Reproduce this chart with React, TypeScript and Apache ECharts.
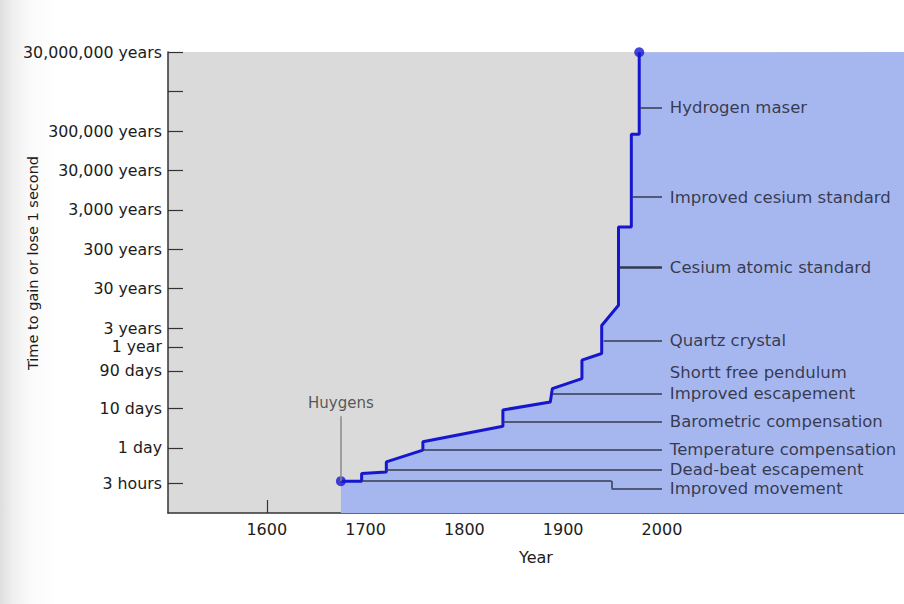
import React, { useEffect, useRef } from "react";
import * as echarts from "echarts";

// ---- units (in years) ----
const HOUR = 1 / 8766;
const DAY = 1 / 365.25;

// ---- axes ----
const X_MIN = 1500;
const X_MAX = 2245;
const Y_MIN = 6.07e-5;
const Y_MAX = 3.05e7;

const xTickValues = [1600, 1700, 1750, 1800, 1850, 1900, 1950, 2000];
const xLabelValues = [1600, 1700, 1800, 1900, 2000];

const yTickValues = [3 * HOUR, DAY, 10 * DAY, 90 * DAY, 1, 3, 30, 300, 3000, 30000, 300000, 3000000, 30000000];
const yTickLabels = ["3 hours", "1 day", "10 days", "90 days", "1 year", "3 years", "30 years", "300 years", "3,000 years", "30,000 years", "300,000 years", "", "30,000,000 years"];

// ---- clock accuracy history (year, time to gain or lose 1 second in years) ----
const stepYears = [1675, 1696, 1696, 1721, 1721, 1758, 1758, 1839, 1839, 1887, 1889, 1919, 1919, 1939, 1939, 1956, 1956, 1969, 1969, 1977, 1977];
const stepTimes = [3.9e-4, 3.9e-4, 6.1e-4, 6.7e-4, 1.2e-3, 2.4e-3, 3.9e-3, 9.7e-3, 0.025, 0.04, 0.087, 0.157, 0.46, 0.68, 3.5, 11.4, 1100, 1100, 2.5e5, 2.5e5, 3e7];

// ---- annotations ----
const annotationLabels = [
  "Hydrogen maser",
  "Improved cesium standard",
  "Cesium atomic standard",
  "Quartz crystal",
  "Shortt free pendulum",
  "Improved escapement",
  "Barometric compensation",
  "Temperature compensation",
  "Dead-beat escapement",
  "Improved movement",
];
const annotationTimes = [1.2e6, 6300, 105, 1.47, 0.226, 0.0646, 0.0129, 2.44e-3, 7.7e-4, 2.55e-4];
const leaderStartYears = [1978, 1970, 1957, 1941, null, 1889, 1839, 1758, 1721, 1949];
const leaderEndYear = 2000;
const labelYear = 2008;
const improvedMovementYears = [1696, 1949];
const improvedMovementTime = 3.94e-4;

const huygensYear = 1675;
const huygensLabelTime = 0.037;
const huygensLineTop = 0.0173;

export default function App() {
  const ref = useRef<HTMLDivElement>(null);

  useEffect(() => {
    if (!ref.current) return;
    const chart = echarts.init(ref.current, null, { renderer: "svg" });
    const font = "DejaVu Sans";
    const textColor = "#1c1c1c";
    const lineBlue = "#1616cf";

    const stepData = stepYears.map((y, i) => [y, stepTimes[i]]);
    const areaData = [...stepData, [stepYears[stepYears.length - 1], Y_MAX], [X_MAX, Y_MAX]];

    const leaderLines: any[] = [];
    annotationLabels.forEach((lab, i) => {
      const s = leaderStartYears[i];
      if (s == null) return;
      leaderLines.push([
        { coord: [s, annotationTimes[i]], lineStyle: { width: i === 2 ? 2.6 : 1.5 } },
        { coord: [leaderEndYear, annotationTimes[i]] },
      ]);
    });
    // Improved movement dog-leg
    leaderLines.push([
      { coord: [improvedMovementYears[0], improvedMovementTime] },
      { coord: [improvedMovementYears[1], improvedMovementTime] },
    ]);
    leaderLines.push([
      { coord: [improvedMovementYears[1], improvedMovementTime] },
      { coord: [improvedMovementYears[1], annotationTimes[9]] },
    ]);
    // Huygens pointer
    leaderLines.push([
      { coord: [huygensYear, huygensLineTop], lineStyle: { color: "#8a8a8a", width: 1.5 } },
      { coord: [huygensYear, stepTimes[0]] },
    ]);

    const labelFor = (v: number) => {
      for (let i = 0; i < yTickValues.length; i++) {
        if (Math.abs(Math.log10(v) - Math.log10(yTickValues[i])) < 0.01) return yTickLabels[i];
      }
      return "";
    };

    chart.setOption({
      animation: false,
      grid: {
        left: 168,
        right: 0,
        top: 52,
        bottom: 91,
        show: true,
        backgroundColor: "#dadada",
        borderWidth: 0,
      },
      graphic: [
        {
          type: "text",
          x: 33,
          y: 263,
          rotation: Math.PI / 2,
          style: {
            text: "Time to gain or lose 1 second",
            fontSize: 14.5,
            fontFamily: font,
            fill: textColor,
            align: "center",
            verticalAlign: "middle",
          },
        },
      ],
      xAxis: {
        type: "value",
        min: X_MIN,
        max: X_MAX,
        splitLine: { show: false },
        axisLine: { lineStyle: { color: "#333", width: 1.5 } },
        axisTick: {
          inside: true,
          length: 13,
          customValues: xTickValues,
          lineStyle: { color: "#333", width: 1.2 },
        },
        axisLabel: {
          customValues: xLabelValues,
          margin: 8,
          fontSize: 16,
          fontFamily: font,
          color: textColor,
          formatter: (v: number) => String(v),
        },
        name: "Year",
        nameLocation: "middle",
        nameGap: 44,
        nameTextStyle: { fontSize: 16, fontFamily: font, color: textColor, verticalAlign: "middle" },
      },
      yAxis: {
        type: "log",
        logBase: 10,
        min: Y_MIN,
        max: Y_MAX,
        splitLine: { show: false },
        axisLine: { show: true, lineStyle: { color: "#333", width: 1.5 } },
        axisTick: {
          show: true,
          inside: true,
          length: 15,
          customValues: yTickValues,
          lineStyle: { color: "#333", width: 1.2 },
        },
        axisLabel: {
          customValues: yTickValues,
          margin: 6,
          fontSize: 15.8,
          fontFamily: font,
          color: textColor,
          formatter: (v: number) => labelFor(v),
        },
      },
      series: [
        {
          name: "region",
          type: "line",
          data: areaData,
          symbol: "none",
          lineStyle: { width: 0, opacity: 0 },
          areaStyle: { color: "#a6b6ef", opacity: 1, origin: "start" },
          silent: true,
          z: 1,
        },
        {
          name: "annotations",
          type: "scatter",
          symbolSize: 0,
          data: annotationLabels.map((lab, i) => ({ name: lab, value: [labelYear, annotationTimes[i]] })),
          label: {
            show: true,
            position: "right",
            distance: 0,
            formatter: "{b}",
            fontSize: 16.5,
            fontFamily: font,
            color: "#171826",
            align: "left",
            verticalAlign: "middle",
          },
          markLine: {
            silent: true,
            symbol: "none",
            label: { show: false },
            lineStyle: { color: "#353a50", width: 1.5, type: "solid" },
            data: leaderLines,
          },
          z: 2,
        },
        {
          name: "huygens",
          type: "scatter",
          symbolSize: 0,
          data: [{ name: "Huygens", value: [huygensYear, huygensLabelTime] }],
          label: {
            show: true,
            position: "inside",
            formatter: "{b}",
            fontSize: 15,
            fontFamily: font,
            color: "#333",
          },
          z: 2,
        },
        {
          name: "accuracy",
          type: "line",
          data: stepData,
          symbol: "none",
          lineStyle: { color: lineBlue, width: 3 },
          z: 3,
        },
        {
          name: "endpoints",
          type: "scatter",
          data: [stepData[0], stepData[stepData.length - 1]],
          symbol: "circle",
          symbolSize: 10,
          itemStyle: { color: lineBlue },
          z: 4,
        },
      ],
    });

    return () => chart.dispose();
  }, []);

  return (
    <div
      ref={ref}
      style={{
        position: "fixed",
        left: 0,
        top: 0,
        width: 904,
        height: 604,
        background: "linear-gradient(to right, #dedede 0px, #eeeeee 12px, #fafafa 30px, #ffffff 60px)",
      }}
    />
  );
}
